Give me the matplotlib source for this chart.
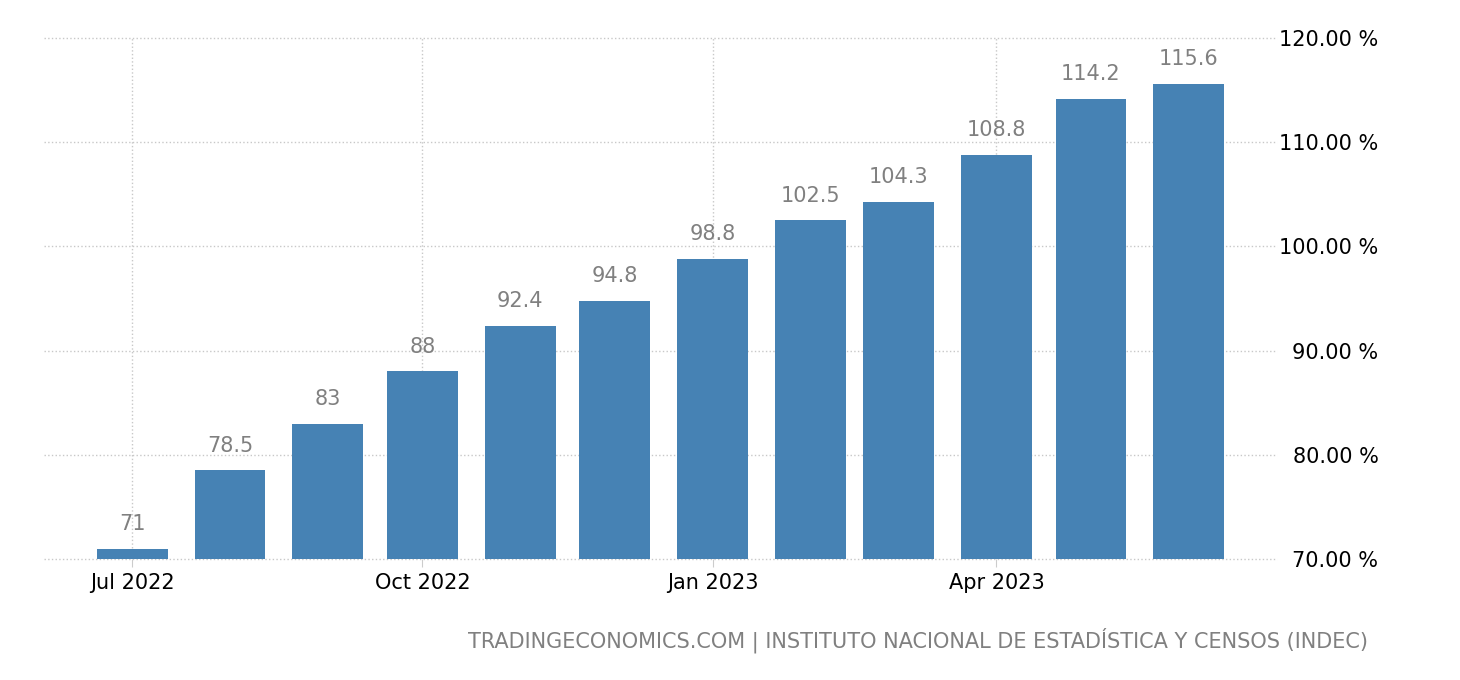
import numpy as np
import pandas as pd
import matplotlib.pyplot as plt
import matplotlib.dates as mdates

months = pd.date_range('2022-07-01', '2023-06-01', freq='MS')
inflation = [71, 78.5, 83, 88, 92.4, 94.8, 98.8, 102.5, 104.3, 108.8, 114.2, 115.6]
labels = ['71', '78.5', '83', '88', '92.4', '94.8', '98.8', '102.5', '104.3', '108.8', '114.2', '115.6']
tick_dates = pd.to_datetime(['2022-07-01', '2022-10-01', '2023-01-01', '2023-04-01'])
tick_labels = ['Jul 2022', 'Oct 2022', 'Jan 2023', 'Apr 2023']
yticks = [70, 80, 90, 100, 110, 120]

fig = plt.figure(figsize=(14.6, 6.8), dpi=100)
ax = fig.add_axes([0.0301, 0.178, 0.8446, 0.766])

ax.bar(months, inflation, width=22.5, color='#4682B4', zorder=2)
for d, v, t in zip(months, inflation, labels):
    ax.text(d, v + 1.4, t, ha='center', va='bottom', fontsize=15, color='#808080')

ax.set_ylim(70, 120)
ax.set_xlim(pd.Timestamp('2022-06-03'), pd.Timestamp('2023-06-29'))
ax.set_xticks(tick_dates)
ax.set_xticklabels(tick_labels, fontsize=15)
ax.set_yticks(yticks)
ax.set_yticklabels(['%.2f %%' % y for y in yticks], fontsize=15)

ax.yaxis.tick_right()
ax.tick_params(axis='y', length=0, pad=73)
for lab in ax.get_yticklabels():
    lab.set_horizontalalignment('right')
ax.tick_params(axis='x', length=6, color='#cccccc', pad=4)

ax.grid(True, color='#c8c8c8', linestyle=':', linewidth=1, zorder=0)
for gl in ax.get_ygridlines():
    gl.set_clip_on(False)
for s in ax.spines.values():
    s.set_visible(False)

fig.text(0.937, 0.039, 'TRADINGECONOMICS.COM | INSTITUTO NACIONAL DE ESTADÍSTICA Y CENSOS (INDEC)',
         ha='right', va='bottom', fontsize=15, color='#808080')

fig.savefig('out.png', dpi=100)
